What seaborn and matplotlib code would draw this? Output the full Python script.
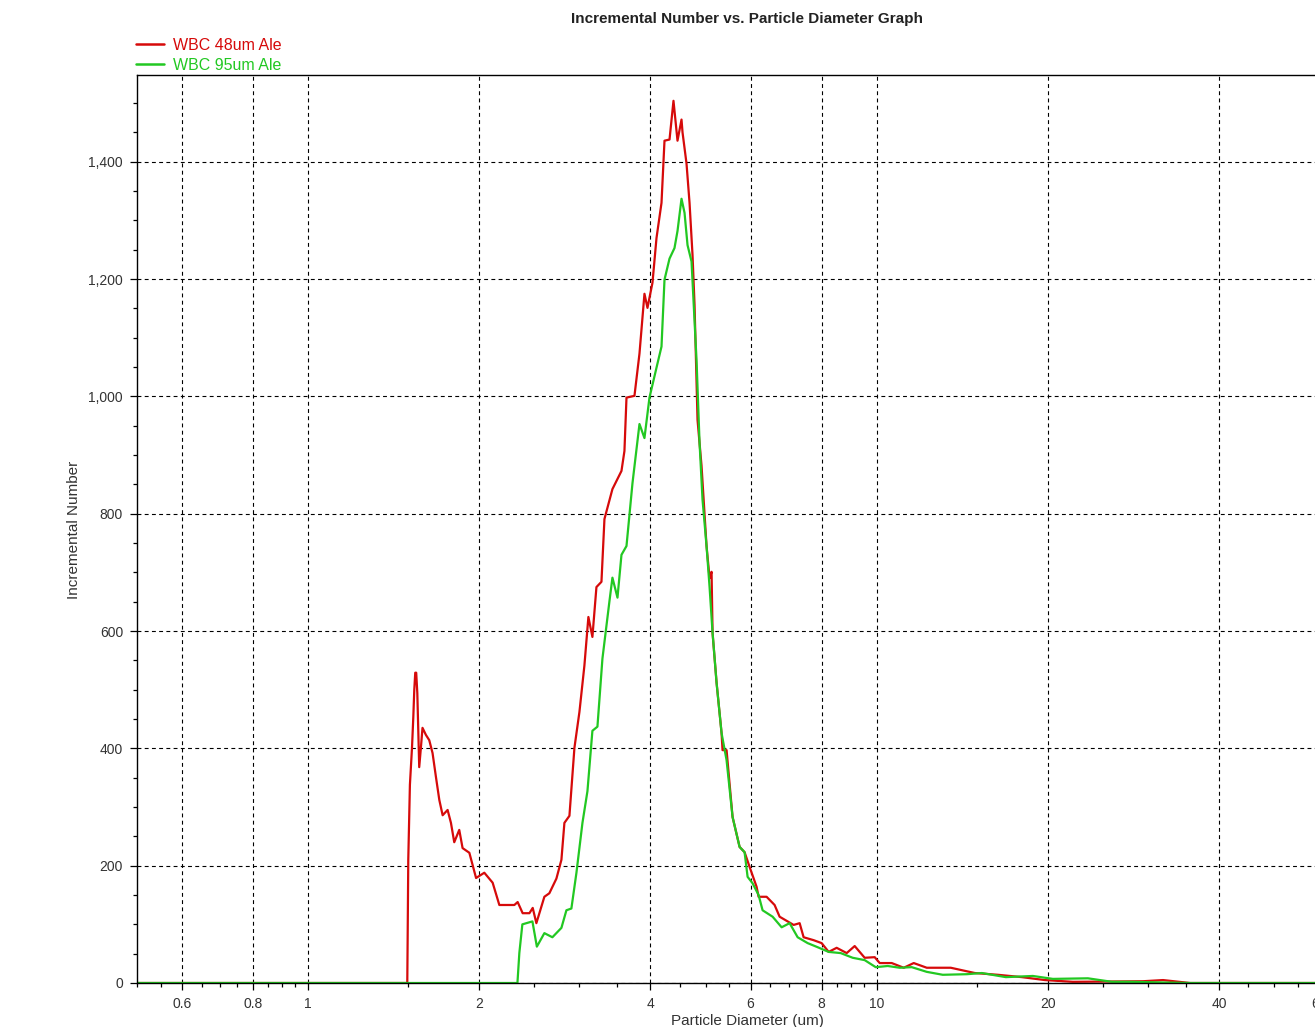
import numpy as np
import pandas as pd
import matplotlib
matplotlib.use('Agg')
import matplotlib.pyplot as plt
import seaborn as sns
from matplotlib.ticker import FixedLocator, FuncFormatter, MultipleLocator, NullFormatter

# values (diameter in um, incremental number)
red_label = 'WBC 48um Ale'
red_d = [0.5, 1.494, 1.496, 1.500, 1.510, 1.523, 1.531, 1.537, 1.543, 1.549,
         1.556, 1.568, 1.579, 1.589, 1.611, 1.633, 1.655, 1.678, 1.701, 1.724,
         1.759, 1.783, 1.807, 1.844, 1.869, 1.921, 1.974, 2.041, 2.111, 2.169,
         2.305, 2.336, 2.384, 2.450, 2.483, 2.520, 2.603, 2.656, 2.733, 2.789,
         2.823, 2.881, 2.940, 3.000, 3.061, 3.111, 3.162, 3.214, 3.280, 3.320,
         3.429, 3.557, 3.600, 3.630, 3.749, 3.826, 3.904, 3.952, 4.033, 4.099,
         4.183, 4.234, 4.321, 4.391, 4.463, 4.536, 4.555, 4.629, 4.686, 4.743,
         4.782, 4.840, 4.919, 5.020, 5.082, 5.123, 5.144, 5.228, 5.335, 5.356,
         5.444, 5.578, 5.739, 5.856, 5.976, 6.148, 6.198, 6.402, 6.613, 6.749,
         6.915, 7.143, 7.319, 7.438, 7.746, 8.001, 8.232, 8.503, 8.855, 9.147,
         9.525, 9.919, 10.122, 10.627, 11.157, 11.618, 12.247, 13.498, 14.878, 16.332,
         18.001, 19.760, 22.135, 29.398, 31.880, 35.568, 62.0]
red_n = [0, 0, 68, 210, 338, 402, 454, 500, 529, 529,
         494, 368, 402, 435, 423, 414, 392, 351, 312, 286,
         295, 273, 240, 261, 230, 222, 179, 188, 171, 133,
         133, 138, 119, 119, 128, 102, 147, 153, 178, 210,
         273, 285, 401, 462, 541, 624, 590, 675, 684, 791,
         842, 873, 907, 998, 1001, 1073, 1175, 1151, 1194, 1270,
         1330, 1436, 1438, 1504, 1436, 1472, 1450, 1397, 1330, 1241,
         1156, 960, 882, 745, 690, 701, 597, 512, 426, 397,
         397, 283, 232, 223, 198, 164, 147, 147, 133, 113,
         107, 99, 102, 78, 73, 68, 53, 60, 51, 63,
         43, 44, 34, 34, 26, 34, 26, 26, 17, 14,
         10, 5, 2, 3, 5, 0, 0]

green_label = 'WBC 95um Ale'
green_d = [0.5, 2.334, 2.352, 2.381, 2.480, 2.525, 2.603, 2.689, 2.789, 2.846,
           2.904, 2.964, 3.037, 3.099, 3.162, 3.227, 3.293, 3.388, 3.429, 3.500,
           3.557, 3.630, 3.719, 3.826, 3.904, 3.984, 4.099, 4.183, 4.234, 4.321,
           4.409, 4.463, 4.536, 4.592, 4.648, 4.724, 4.821, 4.880, 4.939, 5.020,
           5.082, 5.144, 5.228, 5.335, 5.444, 5.578, 5.739, 5.856, 5.928, 6.049,
           6.198, 6.299, 6.560, 6.804, 7.028, 7.260, 7.560, 7.873, 8.232, 8.642,
           9.073, 9.525, 9.960, 10.456, 10.977, 11.524, 12.247, 13.067, 14.403, 15.306,
           16.870, 18.822, 20.411, 23.522, 25.926, 28.001, 35.568, 62.0]
green_n = [0, 0, 51, 100, 105, 62, 85, 78, 94, 124,
           127, 188, 273, 327, 430, 437, 553, 651, 691, 657,
           730, 745, 852, 953, 929, 998, 1049, 1085, 1199, 1235,
           1253, 1282, 1337, 1313, 1258, 1230, 1061, 921, 824, 745,
           675, 597, 512, 426, 380, 283, 232, 223, 181, 170,
           150, 124, 113, 95, 102, 78, 68, 61, 53, 51,
           43, 39, 27, 29, 26, 27, 19, 14, 15, 17,
           10, 12, 7, 8, 2, 2, 0, 0]

x_major = [0.6, 0.8, 1, 2, 4, 6, 8, 10, 20, 40, 60]
x_minor = [0.5, 0.55, 0.65, 0.7, 0.75, 0.85, 0.9, 0.95, 1.5, 2.5, 3, 3.5,
           4.5, 5, 5.5, 6.5, 7, 7.5, 8.5, 9, 9.5, 15, 25, 30, 35, 45, 50, 55]
y_major = [0, 200, 400, 600, 800, 1000, 1200, 1400]

df = pd.concat([
    pd.DataFrame({'diameter': red_d, 'count': red_n, 'sample': red_label}),
    pd.DataFrame({'diameter': green_d, 'count': green_n, 'sample': green_label}),
], ignore_index=True)

sns.set_style('white')
plt.rcParams['font.family'] = ['Liberation Sans', 'DejaVu Sans']

red_col = '#d60a0a'
green_col = '#22c822'

fig = plt.figure(figsize=(13.15, 10.27), dpi=100)
ax = fig.add_axes([137/1315, 44/1027, 1193/1315, 908/1027])
ax.set_xscale('log')

sns.lineplot(data=df, x='diameter', y='count', hue='sample',
             hue_order=[red_label, green_label],
             palette={red_label: red_col, green_label: green_col},
             estimator=None, sort=False, linewidth=1.6, ax=ax)

ax.set_xlim(0.5, 62.7)
ax.set_ylim(0, 1548)

ax.xaxis.set_major_locator(FixedLocator(x_major))
ax.xaxis.set_major_formatter(FuncFormatter(lambda v, p: f'{v:g}'))
ax.xaxis.set_minor_locator(FixedLocator(x_minor))
ax.xaxis.set_minor_formatter(NullFormatter())
ax.yaxis.set_major_locator(FixedLocator(y_major))
ax.yaxis.set_major_formatter(FuncFormatter(lambda v, p: f'{int(v):,}'))
ax.yaxis.set_minor_locator(MultipleLocator(50))

ax.grid(True, which='major', color='black', linestyle=(0, (3.5, 3)), linewidth=0.8)
for s in ax.spines.values():
    s.set_color('black')
    s.set_linewidth(1)

ax.tick_params(which='major', direction='out', length=5, width=0.9, color='black',
               labelsize=10, labelcolor='#333333', bottom=True, left=True, pad=5)
ax.tick_params(which='minor', direction='out', length=3.2, width=0.9, color='black',
               bottom=True, left=True)
ax.set_xlabel('')
ax.set_ylabel('')

fig.text(747/1315, 1 - 19/1027, 'Incremental Number vs. Particle Diameter Graph',
         ha='center', va='center', fontsize=11, fontweight='bold', color='#222222')
fig.text(747/1315, 1 - 1021/1027, 'Particle Diameter (um)',
         ha='center', va='center', fontsize=11, color='#333333')
fig.text(74/1315, 1 - 530/1027, 'Incremental Number', rotation=90,
         ha='center', va='center', fontsize=11, color='#333333')

leg = ax.get_legend()
handles = leg.legend_handles
labels = [t.get_text() for t in leg.get_texts()]
leg.remove()
fleg = fig.legend(handles, labels, loc='upper left',
                  bbox_to_anchor=(136/1315, 1 - 38/1027), frameon=False,
                  borderpad=0, borderaxespad=0, handlelength=1.75,
                  handletextpad=0.55, labelspacing=0.3, fontsize=11.5)
for t, c in zip(fleg.get_texts(), [red_col, green_col]):
    t.set_color(c)
for h in fleg.legend_handles:
    h.set_linewidth(1.8)

fig.savefig('out.png', dpi=100)
